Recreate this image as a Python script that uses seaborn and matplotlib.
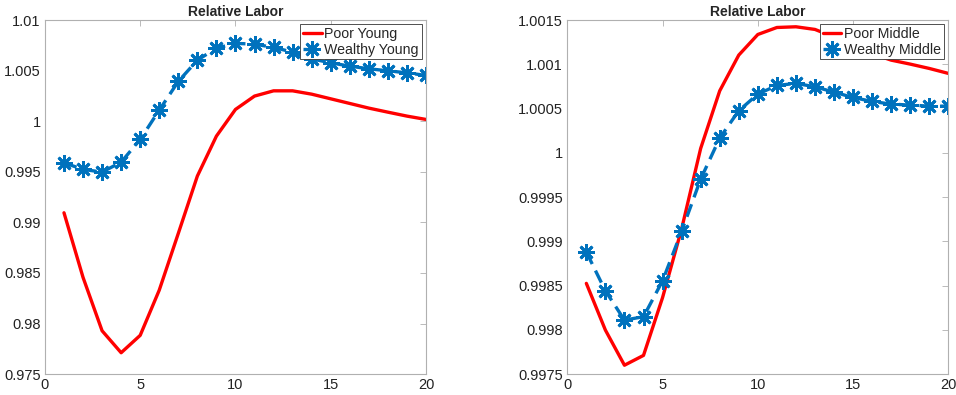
import numpy as np
import pandas as pd
import seaborn as sns
import matplotlib
matplotlib.use("Agg")
import matplotlib.pyplot as plt
from matplotlib.ticker import FixedLocator, FuncFormatter

# periods
t = list(range(1, 21))

# left panel: young households
poor_young = [0.99095, 0.98456, 0.97928, 0.97711, 0.97883, 0.98330, 0.98891, 0.99458,
              0.99853, 1.00117, 1.00249, 1.00301, 1.00301, 1.00268, 1.00222, 1.00176,
              1.00130, 1.00090, 1.00051, 1.00018]
wealthy_young = [0.99589, 0.99524, 0.99497, 0.99596, 0.99820, 1.00110, 1.00394, 1.00604,
                 1.00723, 1.00770, 1.00763, 1.00730, 1.00684, 1.00617, 1.00578, 1.00545,
                 1.00519, 1.00499, 1.00479, 1.00453]

# right panel: middle-aged households
poor_middle = [0.998525, 0.997997, 0.997600, 0.997711, 0.998364, 0.999140, 1.000050, 1.000701,
               1.001105, 1.001338, 1.001417, 1.001425, 1.001395, 1.001310, 1.001210, 1.001120,
               1.001048, 1.001003, 1.000954, 1.000898]
wealthy_middle = [0.998879, 0.998441, 0.998110, 0.998148, 0.998554, 0.999113, 0.999703, 1.000167,
                  1.000476, 1.000664, 1.000762, 1.000785, 1.000747, 1.000686, 1.000626, 1.000581,
                  1.000551, 1.000540, 1.000528, 1.000528]

left_yticks = [0.975, 0.98, 0.985, 0.99, 0.995, 1.0, 1.005, 1.01]
right_yticks = [0.9975, 0.998, 0.9985, 0.999, 0.9995, 1.0, 1.0005, 1.001, 1.0015]
xticks = [0, 5, 10, 15, 20]

sns.set_style("white")
plt.rcParams['font.family'] = ['Liberation Sans', 'DejaVu Sans']

RED = "#FF0000"
BLUE = "#0072BD"
AXCOL = "#b0b0b0"

fig = plt.figure(figsize=(9.56, 3.95), dpi=100)
ax1 = fig.add_axes([0.047, 0.053, 0.3986, 0.896])
ax2 = fig.add_axes([0.5934, 0.053, 0.3986, 0.896])

panels = [
    (ax1, poor_young, wealthy_young, "Poor Young", "Wealthy Young", left_yticks),
    (ax2, poor_middle, wealthy_middle, "Poor Middle", "Wealthy Middle", right_yticks),
]

for ax, poor, rich, lab_p, lab_r, yt in panels:
    df = pd.DataFrame({"t": t, "poor": poor, "rich": rich})
    sns.lineplot(data=df, x="t", y="poor", ax=ax, color=RED, lw=2.4, label=lab_p)
    sns.lineplot(data=df, x="t", y="rich", ax=ax, color=BLUE, lw=2.4, dashes=False,
                 linestyle=(0, (4, 2.2)),
                 marker=(8, 2, 0), markersize=12, markeredgewidth=2.0,
                 markeredgecolor=BLUE, label=lab_r)
    ax.set_xlim(0, 20)
    ax.set_ylim(yt[0], yt[-1])
    ax.xaxis.set_major_locator(FixedLocator(xticks))
    ax.yaxis.set_major_locator(FixedLocator(yt))
    ax.yaxis.set_major_formatter(FuncFormatter(lambda v, p: "{:g}".format(round(v, 6))))
    ax.set_xlabel("")
    ax.set_ylabel("")
    ax.set_title("Relative Labor", fontsize=10, fontweight="bold", pad=3)
    ax.tick_params(direction="in", top=True, right=True, length=4, width=0.6,
                   color=AXCOL, labelsize=10.5, labelcolor="#222222", pad=3)
    for s in ax.spines.values():
        s.set_color(AXCOL)
        s.set_linewidth(0.8)
    leg = ax.legend(loc="upper right", fontsize=10.2, frameon=True, fancybox=False,
                    edgecolor="#333333", framealpha=1, borderpad=0.2, labelspacing=0.1,
                    handlelength=1.3, handletextpad=0.2, borderaxespad=0.3)
    leg.get_frame().set_linewidth(0.6)

fig.savefig("out.png", dpi=100)
